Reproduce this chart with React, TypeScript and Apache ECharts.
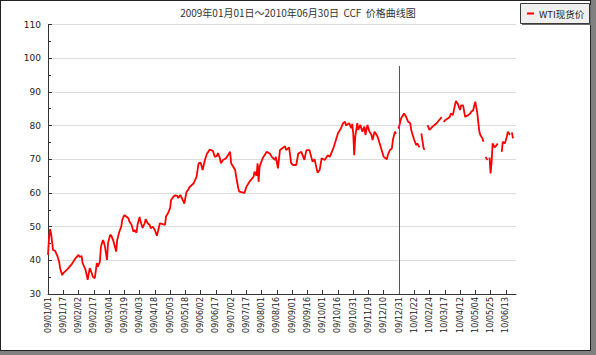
import React, { useEffect, useRef } from "react";
import * as echarts from "echarts";

const TITLE = "2009年01月01日～2010年06月30日  CCF  价格曲线图";
const SERIES_NAME = "WTI现货价";

const TICK_LABELS = [
  "09/01/01", "09/01/17", "09/02/02", "09/02/17", "09/03/04", "09/03/19",
  "09/04/03", "09/04/18", "09/05/03", "09/05/18", "09/06/02", "09/06/17",
  "09/07/02", "09/07/17", "09/08/01", "09/08/16", "09/09/01", "09/09/16",
  "09/10/01", "09/10/16", "09/10/31", "09/11/19", "09/12/10", "09/12/31",
  "10/01/22", "10/02/24", "10/03/17", "10/04/12", "10/05/04", "10/05/25",
  "10/06/13",
];
const POINTS_PER_TICK = 15;
const LAST_INDEX = 460;
const YEAR_MARK_INDEX = 345;
const YEAR_MARK_TOP = 97.7;

// trading-day index along the x axis
const DAY_INDEX = [
  0, 1, 2, 3, 5, 7, 9, 11, 12, 14, 15, 19, 23, 27, 30, 31, 33, 34, 37, 39,
  40, 41, 43, 44, 46, 48, 49, 51, 52, 54, 55, 56, 58, 59, 61, 62, 64, 67, 68, 70,
  72, 73, 75, 77, 79, 80, 82, 84, 85, 87, 88, 90, 91, 93, 95, 96, 98, 100, 101, 103,
  105, 107, 108, 110, 112, 115, 116, 118, 120, 121, 123, 125, 127, 128, 130, 132, 134, 136, 138, 139,
  143, 146, 148, 150, 152, 154, 156, 159, 162, 164, 166, 167, 169, 170, 172, 175, 179, 180, 184, 185,
  187, 188, 192, 193, 195, 198, 202, 203, 205, 206, 207, 208, 211, 215, 218, 220, 223, 224, 226, 228,
  230, 233, 234, 237, 239, 241, 244, 246, 249, 252, 254, 257, 260, 262, 264, 265, 267, 269, 272, 275,
  277, 279, 281, 283, 285, 288, 290, 292, 293, 296, 298, 299, 300, 301, 302, 304, 305, 307, 309, 311,
  312, 314, 316, 318, 319, 321, 323, 324, 326, 328, 330, 333, 334, 336, 338, 339, 341, 342, 343, 344,
  345, 347, 350, 352, 354, 356, 357, 359, 360, 362, 363, 365, 366, 367, 369, 370, 371, 373, 375, 378,
  382, 385, 387, 388, 389, 390, 393, 395, 396, 398, 400, 401, 403, 405, 406, 408, 410, 413, 415, 416,
  418, 419, 420, 422, 423, 424, 425, 427, 428, 429, 430, 432, 433, 434, 435, 436, 437, 439, 441, 442,
  444, 446, 447, 449, 451, 452, 454, 455, 456, 457,
];

// WTI spot price (USD/bbl); null = no quote (line break)
const WTI_PRICE = [
  41.6, 46.6, 49.3, 48.0, 43.0, 42.8, 41.5, 39.5, 37.5, 35.6, 36.2, 37.3, 38.7, 40.6, 41.6, 41.0, 41.3, 39.2, 37.1, 34.2,
  36.0, 37.7, 36.2, 35.1, 34.7, 39.2, 38.1, 39.6, 44.0, 46.0, 45.3, 44.0, 40.1, 45.1, 47.5, 47.5, 46.0, 42.6, 46.0, 48.4,
  50.0, 52.0, 53.4, 53.0, 52.5, 51.5, 50.6, 48.5, 49.0, 48.2, 50.5, 52.9, 51.5, 49.6, 51.0, 52.2, 51.0, 50.5, 49.5, 50.0,
  49.0, 47.3, 48.5, 51.0, 50.8, 50.5, 53.0, 54.0, 55.5, 57.9, 58.8, 59.3, 59.1, 58.5, 59.4, 58.2, 56.8, 60.2, 61.0, 61.7,
  62.8, 64.8, 68.8, 69.0, 66.8, 69.5, 71.5, 72.9, 72.5, 70.7, 71.0, 71.8, 70.3, 68.8, 69.8, 70.3, 72.2, 68.8, 66.8, 64.8,
  61.4, 60.4, 60.1, 59.9, 61.8, 63.3, 64.8, 66.3, 65.1, 68.8, 63.3, 67.8, 70.3, 72.2, 71.7, 70.7, 69.8, 70.7, 67.3, 72.7,
  73.2, 73.9, 72.7, 73.5, 68.8, 68.3, 68.3, 71.7, 72.2, 69.8, 72.7, 72.7, 69.3, 70.0, 67.3, 66.0, 66.8, 70.3, 69.8, 71.2,
  70.7, 72.2, 73.7, 75.7, 77.7, 79.2, 80.7, 81.1, 80.0, 80.7, 79.2, 80.5, 77.7, 71.2, 76.7, 80.7, 78.7, 80.2, 78.2, 79.7,
  77.2, 80.2, 78.2, 77.2, 75.7, 78.2, 77.2, 76.7, 74.7, 72.7, 70.7, 70.0, 71.2, 72.7, 73.2, 75.7, 78.2, 77.5, null, 79.2,
  79.5, 82.1, 83.6, 82.6, 81.1, 80.7, 78.7, 76.7, 75.7, 74.2, 74.7, 73.5, null, 77.7, 73.5, 72.8, null, 80.1, 78.7, 79.7,
  80.7, 81.8, 82.5, null, 81.1, 81.5, 82.1, 82.6, 83.6, 83.1, 86.1, 87.3, 86.3, 84.6, 86.0, 86.0, 82.6, 83.1, 83.6, 84.1,
  84.6, 86.0, 87.1, 83.6, 80.7, 78.2, 77.2, 76.2, 75.2, null, 70.7, 69.8, null, 70.5, 65.8, 69.0, 74.7, 73.5, 74.2, 74.7,
  null, 72.2, 75.2, 74.7, 76.7, 78.2, 77.2, null, 78.0, 76.2,
];

const Y_MIN = 30;
const Y_MAX = 110;
const Y_STEP = 10;

export default function App() {
  const ref = useRef<HTMLDivElement>(null);

  useEffect(() => {
    if (!ref.current) return;
    const chart = echarts.init(ref.current, null, { renderer: "svg" });
    const tickValues = TICK_LABELS.map((_, i) => i * POINTS_PER_TICK);
    const seriesData = DAY_INDEX.map((d, i) => [d, WTI_PRICE[i] === null ? "-" : WTI_PRICE[i]]);

    chart.setOption({
      animation: false,
      backgroundColor: "transparent",
      title: {
        text: TITLE,
        left: "center",
        top: 2,
        textStyle: {
          fontFamily: "Noto Sans CJK SC",
          fontSize: 10,
          fontWeight: "normal",
          color: "#333",
        },
      },
      grid: { left: 48, right: 80, top: 24.5, bottom: 61, containLabel: false },
      xAxis: {
        type: "value",
        min: 0,
        max: LAST_INDEX,
        interval: POINTS_PER_TICK,
        splitLine: { show: false },
        axisLine: { lineStyle: { color: "#333", width: 1 } },
        axisTick: {
          inside: true,
          length: 4,
          customValues: tickValues,
          lineStyle: { color: "#333" },
        },
        axisLabel: {
          customValues: tickValues,
          rotate: 90,
          margin: 3,
          fontSize: 8,
          fontFamily: "DejaVu Sans",
          color: "#222",
          formatter: (v: number) => TICK_LABELS[Math.round(v / POINTS_PER_TICK)] ?? "",
        },
      },
      yAxis: {
        type: "value",
        min: Y_MIN,
        max: Y_MAX,
        interval: Y_STEP,
        axisLine: { show: true, lineStyle: { color: "#333", width: 1 } },
        axisTick: { show: true, inside: true, length: 4, lineStyle: { color: "#333" } },
        minorTick: { show: true, splitNumber: 2, length: 3, lineStyle: { color: "#333" } },
        splitLine: { lineStyle: { color: "#dcdcdc", width: 1 } },
        axisLabel: {
          fontSize: 9,
          fontFamily: "DejaVu Sans",
          color: "#222",
          margin: 7,
        },
      },
      series: [
        {
          name: SERIES_NAME,
          type: "line",
          data: seriesData,
          showSymbol: false,
          connectNulls: false,
          lineStyle: { color: "#ff0000", width: 1.8 },
          itemStyle: { color: "#ff0000" },
          markLine: {
            silent: true,
            symbol: "none",
            label: { show: false },
            lineStyle: { color: "#555", width: 1, type: "solid" },
            data: [[{ coord: [YEAR_MARK_INDEX, Y_MIN] }, { coord: [YEAR_MARK_INDEX, YEAR_MARK_TOP] }]],
          },
        },
      ],
      graphic: [
        {
          type: "rect",
          z: 100,
          shape: { x: 522, y: 5, width: 69, height: 20 },
          style: { fill: "#6a6a6a" },
        },
        {
          type: "rect",
          z: 101,
          shape: { x: 520.5, y: 3.5, width: 69, height: 20 },
          style: { fill: "#efefef", stroke: "#3a3a3a", lineWidth: 1 },
        },
        {
          type: "line",
          z: 102,
          shape: { x1: 527, y1: 13.5, x2: 534, y2: 13.5 },
          style: { stroke: "#ff0000", lineWidth: 2 },
        },
        {
          type: "text",
          z: 102,
          x: 539,
          y: 14,
          style: {
            text: SERIES_NAME,
            fontSize: 9.5,
            fontFamily: "Noto Sans CJK SC",
            fill: "#222",
            verticalAlign: "middle",
          },
        },
      ],
    });

    return () => chart.dispose();
  }, []);

  return (
    <div style={{ position: "fixed", left: 0, top: 0, width: 596, height: 355, background: "#808080" }}>
      <div
        style={{
          position: "absolute",
          left: 0,
          top: 0,
          width: 589,
          height: 349,
          background: "#ffffff",
          border: "1px solid #222",
        }}
      />
      <div ref={ref} style={{ position: "absolute", left: 0, top: 0, width: 596, height: 355 }} />
    </div>
  );
}
